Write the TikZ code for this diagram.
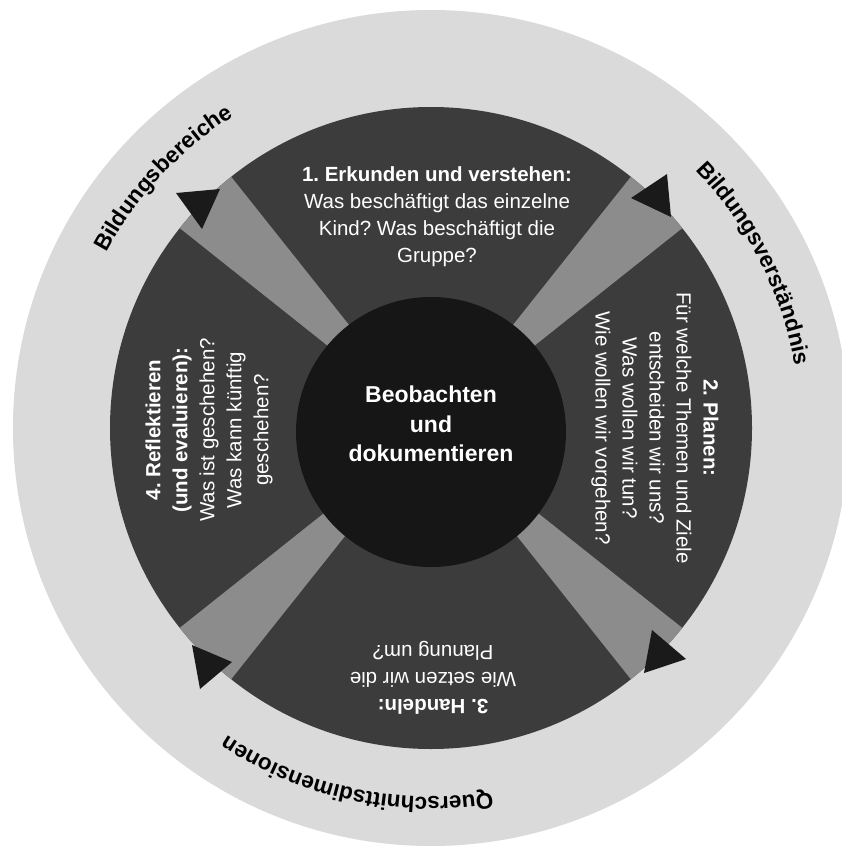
\documentclass[tikz,border=0pt]{standalone}
\usepackage{fontspec}
\setmainfont{Liberation Sans}
\usetikzlibrary{decorations.text}
\frenchspacing
\definecolor{ringgray}{RGB}{218,218,218}
\definecolor{wheelgray}{RGB}{60,60,60}
\definecolor{bandgray}{RGB}{140,140,140}
\definecolor{coregray}{RGB}{22,22,22}
\definecolor{tipgray}{RGB}{26,26,26}
\newcommand\ringfont{\bfseries\fontsize{22.5}{22.5}\selectfont}
\tikzset{
  blocktext/.style={text=white, align=center, inner sep=0pt, font=\frenchspacing\fontsize{20.5}{27}\selectfont},
  coretext/.style={text=white, align=center, inner sep=0pt, font=\bfseries\fontsize{23}{29.5}\selectfont},
  band/.style={fill=bandgray},
  tip/.style={fill=tipgray},
  ringlabel/.style={decorate, decoration={text along path, text align=center, text color=black}}
}
\begin{document}
\begin{tikzpicture}[x=1pt,y=1pt]
\useasboundingbox (0,0) rectangle (842,-848);
\fill[white] (0,0) rectangle (842,-848);
\coordinate (C) at (431,-428);
\coordinate (K) at (431,-432);
% rings
\fill[ringgray] (C) circle (418pt);
\fill[wheelgray] (C) circle (321pt);
% bands
\foreach \a in {45,135,225,315}{
  \fill[band] (C) -- ([shift={(\a-6.5:321pt)}]C) arc[start angle=\a-6.5, end angle=\a+6.5, radius=321pt] -- cycle;
}
% core
\fill[coregray] (K) circle (135pt);
% arrow tips
\fill[tip] (176,-193) -- (220,-189) -- (202,-229) -- cycle;
\fill[tip] (667,-174) -- (631,-198) -- (671,-217) -- cycle;
\fill[tip] (652,-630) -- (686,-659) -- (644,-673) -- cycle;
\fill[tip] (192,-645) -- (232,-662) -- (200,-689) -- cycle;
% texts
\node[coretext] (core) at (431,-424) {Beobachten\\und\\dokumentieren};
\node[blocktext] (t1) at (437,-217) {\textbf{1. Erkunden und verstehen:}\\Was beschäftigt das einzelne\\Kind? Was beschäftigt die\\Gruppe?};
\node[blocktext, rotate=-90] (t2) at (655,-428) {\textbf{2. Planen:}\\Für welche Themen und Ziele\\entscheiden wir uns?\\Was wollen wir tun?\\Wie wollen wir vorgehen?};
\node[blocktext, rotate=180] (t3) at (433,-678) {\textbf{3. Handeln:}\\Wie setzen wir die\\Planung um?};
\node[blocktext, rotate=90] (t4) at (209,-430) {\textbf{4. Reflektieren}\\\textbf{(und evaluieren):}\\Was ist geschehen?\\Was kann künftig\\geschehen?};
% ring labels
\path[ringlabel, decoration={text={|\ringfont|Bildungsbereiche}}] ([shift={(162:369pt)}]C) arc[start angle=162, end angle=112, radius=369pt];
\path[ringlabel, decoration={text={|\ringfont|Bildungsverständnis}}] ([shift={(57:369pt)}]C) arc[start angle=57, end angle=-3, radius=369pt];
\path[ringlabel, decoration={text={|\ringfont|Querschnittsdimensionen}}] ([shift={(-67:369pt)}]C) arc[start angle=-67, end angle=-137, radius=369pt];
\end{tikzpicture}
\end{document}
